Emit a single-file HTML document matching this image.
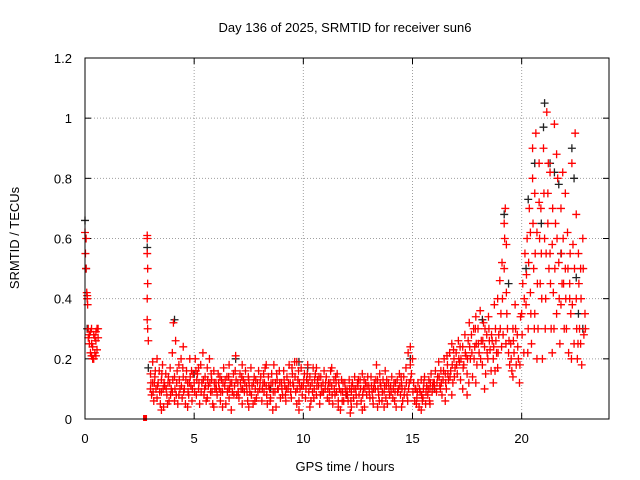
<!DOCTYPE html>
<html><head><meta charset="utf-8"><style>
body{margin:0;background:#fff}
svg{display:block;font-family:"Liberation Sans",sans-serif}
</style></head><body>
<svg id="chart" width="640" height="480">
<text x="345" y="32" font-size="13" text-anchor="middle">Day 136 of 2025, SRMTID for receiver sun6</text>
<text transform="translate(19,238) rotate(-90)" font-size="13" text-anchor="middle">SRMTID / TECUs</text>
<text x="345" y="471" font-size="13" text-anchor="middle">GPS time / hours</text>
<g id="grid"></g>
<g id="ticks"></g>
<g id="marks"></g>
<rect x="85" y="58" width="524" height="361" fill="none" stroke="#000" stroke-width="1"/>
</svg>
<script>
const xTicks=[0,5,10,15,20];
const yTicks=[0,0.2,0.4,0.6,0.8,1,1.2];
const yTickLabels=["0","0.2","0.4","0.6","0.8","1","1.2"];
const redSquare=[[2.75,0]];
const red=[
[0,.62],[0.02,.55],[0.05,.5],[0.08,.42],[0.1,.4],[0.12,.38],[0.15,.3],[0.2,.28],[0.25,.22],[0.3,.25],[0.35,.2],[0.4,.28],[0.45,.22],[0.5,.26],[0.55,.3],[0.6,.27],[0.3,.3],[0.4,.2],[0.5,.21],[0.2,.25],[0.05,.6],[0.1,.41],
[2.85,.61],[2.85,.6],[2.85,.55],[2.87,.5],[2.87,.45],[2.85,.4],[2.85,.33],[2.87,.3],[2.9,.26],
[3.0,.15],[3.0,.1],[3.05,.08],[3.1,.19],[3.1,.12],[3.15,.06],[3.2,.14],[3.25,.1],[3.3,.2],[3.3,.07],[3.35,.12],[3.4,.16],[3.45,.05],[3.5,.13],[3.5,.09],[3.55,.18],[3.6,.04],[3.65,.11],[3.7,.15],[3.75,.08],[3.8,.12],[3.85,.06],[3.9,.17],[3.95,.1],[3.5,.03],
[4.0,.22],[4.0,.09],[4.05,.32],[4.1,.14],[4.1,.06],[4.15,.26],[4.2,.12],[4.25,.05],[4.3,.18],[4.35,.1],[4.4,.2],[4.45,.07],[4.5,.14],[4.5,.24],[4.55,.1],[4.6,.05],[4.65,.16],[4.7,.12],[4.75,.08],[4.8,.2],[4.85,.11],[4.9,.06],[4.95,.15],[4.3,.08],[4.7,.04],
[5.0,.12],[5.05,.2],[5.1,.08],[5.15,.15],[5.2,.1],[5.25,.05],[5.3,.18],[5.35,.12],[5.4,.22],[5.45,.08],[5.5,.14],[5.55,.06],[5.6,.17],[5.65,.11],[5.7,.2],[5.75,.09],[5.8,.13],[5.85,.05],[5.9,.16],[5.95,.1],[5.2,.17],[5.6,.07],[5.9,.04],
[6.0,.12],[6.05,.08],[6.1,.15],[6.15,.1],[6.2,.06],[6.25,.13],[6.3,.09],[6.35,.17],[6.4,.11],[6.45,.05],[6.5,.14],[6.55,.1],[6.6,.07],[6.65,.12],[6.7,.03],[6.75,.09],[6.8,.15],[6.85,.11],[6.9,.21],[6.95,.08],[6.3,.04],[6.6,.18],
[7.0,.12],[7.05,.07],[7.1,.15],[7.15,.1],[7.2,.05],[7.25,.13],[7.3,.09],[7.35,.16],[7.4,.11],[7.45,.06],[7.5,.13],[7.55,.09],[7.6,.17],[7.65,.11],[7.7,.05],[7.75,.14],[7.8,.1],[7.85,.07],[7.9,.12],[7.95,.16],[7.5,.04],[7.2,.18],
[8.0,.1],[8.05,.14],[8.1,.06],[8.15,.12],[8.2,.09],[8.25,.17],[8.3,.11],[8.35,.05],[8.4,.14],[8.45,.1],[8.5,.07],[8.55,.15],[8.6,.12],[8.65,.18],[8.7,.09],[8.75,.04],[8.8,.13],[8.85,.1],[8.9,.16],[8.95,.07],[8.6,.03],[8.3,.18],
[9.0,.12],[9.05,.08],[9.1,.16],[9.15,.11],[9.2,.06],[9.25,.14],[9.3,.1],[9.35,.18],[9.4,.12],[9.45,.07],[9.5,.15],[9.55,.11],[9.6,.19],[9.65,.09],[9.7,.05],[9.75,.13],[9.8,.03],[9.85,.1],[9.9,.17],[9.95,.08],[9.7,.19],[9.8,.06],
[10.0,.11],[10.05,.15],[10.1,.07],[10.15,.13],[10.2,.18],[10.25,.09],[10.3,.14],[10.35,.06],[10.4,.12],[10.45,.17],[10.5,.1],[10.55,.15],[10.6,.08],[10.65,.13],[10.7,.11],[10.75,.05],[10.8,.14],[10.85,.09],[10.9,.12],[10.95,.16],[10.3,.04],[10.6,.17],
[11.0,.1],[11.05,.14],[11.1,.07],[11.15,.12],[11.2,.09],[11.25,.16],[11.3,.11],[11.35,.05],[11.4,.13],[11.45,.08],[11.5,.12],[11.55,.15],[11.6,.06],[11.65,.1],[11.7,.03],[11.75,.13],[11.8,.09],[11.85,.06],[11.9,.12],[11.95,.08],[11.6,.04],[11.3,.17],
[12.0,.1],[12.05,.06],[12.1,.13],[12.15,.02],[12.2,.09],[12.25,.12],[12.3,.07],[12.35,.14],[12.4,.1],[12.45,.05],[12.5,.11],[12.55,.08],[12.6,.13],[12.65,.06],[12.7,.15],[12.75,.1],[12.8,.04],[12.85,.12],[12.9,.08],[12.95,.14],[12.2,.04],[12.7,.03],
[13.0,.11],[13.05,.07],[13.1,.14],[13.15,.09],[13.2,.05],[13.25,.12],[13.3,.1],[13.35,.18],[13.4,.13],[13.45,.08],[13.5,.15],[13.55,.11],[13.6,.06],[13.65,.13],[13.7,.09],[13.75,.16],[13.8,.11],[13.85,.05],[13.9,.12],[13.95,.08],[13.4,.04],[13.7,.04],
[14.0,.11],[14.05,.14],[14.1,.07],[14.15,.12],[14.2,.09],[14.25,.04],[14.3,.13],[14.35,.1],[14.4,.15],[14.45,.08],[14.5,.12],[14.55,.06],[14.6,.14],[14.65,.1],[14.7,.17],[14.75,.08],[14.8,.22],[14.85,.12],[14.9,.24],[14.95,.15],[14.5,.04],[14.9,.18],
[15.0,.2],[15.05,.12],[15.1,.06],[15.15,.1],[15.2,.07],[15.25,.12],[15.3,.04],[15.35,.09],[15.4,.13],[15.45,.06],[15.5,.1],[15.55,.14],[15.6,.05],[15.65,.11],[15.7,.08],[15.75,.13],[15.8,.1],[15.85,.15],[15.9,.09],[15.95,.12],[15.4,.03],[15.8,.05],
[16.0,.12],[16.05,.16],[16.1,.09],[16.15,.14],[16.2,.19],[16.25,.11],[16.3,.16],[16.35,.08],[16.4,.13],[16.45,.2],[16.5,.15],[16.55,.1],[16.6,.18],[16.65,.13],[16.7,.22],[16.75,.16],[16.8,.25],[16.85,.12],[16.9,.2],[16.95,.17],[16.5,.06],[16.8,.08],
[17.0,.22],[17.05,.15],[17.1,.26],[17.15,.19],[17.2,.13],[17.3,.24],[17.35,.18],[17.4,.28],[17.45,.21],[17.5,.15],[17.55,.26],[17.6,.32],[17.65,.2],[17.7,.28],[17.75,.14],[17.8,.3],[17.85,.24],[17.9,.34],[17.95,.18],[17.5,.08],[17.3,.1],[17.9,.12],
[18.0,.3],[18.05,.22],[18.1,.36],[18.15,.26],[18.2,.18],[18.25,.32],[18.3,.24],[18.35,.15],[18.4,.28],[18.45,.2],[18.5,.3],[18.55,.23],[18.6,.16],[18.65,.26],[18.7,.2],[18.75,.38],[18.8,.3],[18.85,.22],[18.9,.4],[18.95,.28],[18.3,.1],[18.7,.12],[18.9,.17],
[19.0,.46],[19.05,.35],[19.1,.52],[19.15,.28],[19.2,.65],[19.25,.7],[19.3,.42],[19.35,.3],[19.4,.22],[19.45,.18],[19.5,.25],[19.55,.16],[19.6,.3],[19.65,.22],[19.7,.38],[19.75,.18],[19.8,.28],[19.85,.2],[19.9,.12],[19.95,.34],[19.2,.5],[19.3,.58],[19.6,.14],
[20.0,.35],[20.05,.45],[20.1,.22],[20.15,.55],[20.2,.38],[20.25,.6],[20.3,.3],[20.35,.7],[20.4,.42],[20.45,.25],[20.5,.8],[20.55,.5],[20.6,.35],[20.65,.95],[20.7,.62],[20.75,.3],[20.8,.72],[20.85,.45],[20.9,.55],[20.95,.2],[20.6,.75],[20.4,.62],[20.7,.2],[20.5,.9],[20.8,.85],
[21.0,.9],[21.05,.6],[21.1,.4],[21.15,1.02],[21.2,.75],[21.25,.5],[21.3,.82],[21.35,.3],[21.4,.58],[21.45,.42],[21.5,.98],[21.55,.65],[21.6,.35],[21.65,.8],[21.7,.52],[21.75,.25],[21.8,.7],[21.85,.45],[21.9,.6],[21.95,.3],[21.2,.65],[21.4,.22],[21.6,.88],[21.8,.38],[21.3,.55],
[22.0,.5],[22.05,.3],[22.1,.62],[22.15,.22],[22.2,.45],[22.25,.35],[22.3,.85],[22.35,.58],[22.4,.25],[22.45,.95],[22.5,.4],[22.55,.2],[22.6,.55],[22.65,.3],[22.7,.5],[22.75,.18],[22.8,.6],[22.85,.28],[22.9,.35],[22.0,.75],[22.2,.4],[22.5,.68],[22.7,.25]
];
const red2=[
[0.15,.27],[0.25,.29],[0.35,.24],[0.45,.27],[0.55,.23],[0.6,.3],[0.3,.21],[0.5,.29],
[3.02,.12],[3.12,.09],[3.22,.16],[3.32,.11],[3.42,.09],[3.52,.15],[3.62,.12],[3.72,.1],[3.82,.14],[3.92,.08],[3.18,.12],[3.58,.1],[3.78,.05],[3.88,.12],
[4.02,.13],[4.12,.1],[4.22,.16],[4.32,.13],[4.42,.11],[4.52,.09],[4.62,.13],[4.72,.09],[4.82,.14],[4.92,.1],[4.18,.08],[4.48,.17],[4.78,.12],[4.88,.16],
[5.02,.09],[5.12,.13],[5.22,.12],[5.32,.09],[5.42,.13],[5.52,.11],[5.62,.13],[5.72,.12],[5.82,.09],[5.92,.12],[5.08,.16],[5.48,.1],[5.78,.15],
[6.02,.1],[6.12,.12],[6.22,.09],[6.32,.12],[6.42,.13],[6.52,.09],[6.62,.1],[6.72,.12],[6.82,.08],[6.92,.13],[6.18,.14],[6.58,.14],[6.88,.16],
[7.02,.09],[7.12,.12],[7.22,.1],[7.32,.12],[7.42,.09],[7.52,.11],[7.62,.08],[7.72,.12],[7.82,.13],[7.92,.09],[7.18,.14],[7.48,.14],[7.78,.06],
[8.02,.12],[8.12,.1],[8.22,.12],[8.32,.08],[8.42,.11],[8.52,.12],[8.62,.09],[8.72,.12],[8.82,.1],[8.92,.12],[8.18,.15],[8.48,.06],[8.78,.15],
[9.02,.1],[9.12,.13],[9.22,.1],[9.32,.12],[9.42,.09],[9.52,.12],[9.62,.14],[9.72,.1],[9.82,.12],[9.92,.11],[9.18,.08],[9.48,.17],[9.78,.16],
[10.02,.13],[10.12,.1],[10.22,.12],[10.32,.11],[10.42,.09],[10.52,.13],[10.62,.11],[10.72,.14],[10.82,.11],[10.92,.09],[10.18,.15],[10.48,.07],[10.78,.08],
[11.02,.12],[11.12,.1],[11.22,.12],[11.32,.08],[11.42,.1],[11.52,.09],[11.62,.12],[11.72,.09],[11.82,.12],[11.92,.1],[11.18,.06],[11.48,.14],[11.78,.06],
[12.02,.08],[12.12,.1],[12.22,.11],[12.32,.1],[12.42,.08],[12.52,.13],[12.62,.1],[12.72,.08],[12.82,.1],[12.92,.11],[12.18,.06],[12.48,.12],[12.78,.13],
[13.02,.09],[13.12,.11],[13.22,.1],[13.32,.13],[13.42,.1],[13.52,.12],[13.62,.09],[13.72,.11],[13.82,.13],[13.92,.1],[13.18,.07],[13.48,.06],[13.78,.07],
[14.02,.09],[14.12,.1],[14.22,.12],[14.32,.09],[14.42,.11],[14.52,.1],[14.62,.08],[14.72,.12],[14.82,.1],[14.92,.13],[14.18,.06],[14.48,.14],[14.78,.06],
[15.02,.09],[15.12,.1],[15.22,.09],[15.32,.1],[15.42,.08],[15.52,.12],[15.62,.09],[15.72,.1],[15.82,.12],[15.92,.11],[15.18,.05],[15.48,.07],[15.78,.06],
[16.02,.1],[16.12,.12],[16.22,.14],[16.32,.12],[16.42,.16],[16.52,.12],[16.62,.15],[16.72,.14],[16.82,.18],[16.92,.14],[16.28,.1],[16.58,.21],[16.88,.23],
[17.02,.18],[17.12,.2],[17.22,.2],[17.32,.17],[17.42,.22],[17.52,.2],[17.62,.24],[17.72,.22],[17.82,.2],[17.92,.25],[17.18,.24],[17.58,.12],[17.88,.3],
[18.02,.25],[18.12,.2],[18.22,.26],[18.32,.3],[18.42,.22],[18.52,.26],[18.62,.28],[18.72,.24],[18.82,.26],[18.92,.22],[18.48,.34],[18.78,.16],
[19.02,.3],[19.12,.4],[19.22,.6],[19.32,.35],[19.42,.26],[19.52,.2],[19.62,.26],[19.72,.3],[19.82,.24],[19.92,.18],[19.08,.24],[19.28,.25],
[20.02,.28],[20.12,.4],[20.22,.48],[20.32,.52],[20.42,.35],[20.52,.65],[20.62,.55],[20.72,.45],[20.82,.6],[20.92,.4],[20.28,.22],[20.58,.3],[20.88,.7],
[21.02,.75],[21.12,.55],[21.22,.85],[21.32,.45],[21.42,.7],[21.52,.5],[21.62,.6],[21.72,.4],[21.82,.55],[21.92,.45],[21.08,.3],[21.48,.3],[21.88,.82],
[22.02,.4],[22.12,.5],[22.22,.55],[22.32,.38],[22.42,.5],[22.52,.3],[22.62,.45],[22.72,.4],[22.82,.5],[22.92,.3],[22.28,.2],[22.58,.25]
];
const black=[[0,.66],[0.05,.5],[0.1,.3],[2.85,.57],[2.9,.17],[4.1,.33],[6.9,.2],[9.8,.19],[10.2,.17],[14.9,.2],[18.2,.33],[19.2,.68],[19.4,.45],[20.3,.73],[20.6,.85],[20.9,.65],[21.0,.97],[21.05,1.05],[21.3,.85],[21.5,.82],[21.8,.55],[22.3,.9],[22.4,.8],[22.5,.47],[22.6,.35],[22.8,.3],[20.2,.5],[21.7,.78],[8.5,.1],[12,.08],[5,.15],[16,.1]];

const X0=85,X1=609,Y0=419,Y1=58,XMAX=24,YMAX=1.2;
const sx=t=>X0+t*(X1-X0)/XMAX;
const sy=v=>Y0-v*(Y0-Y1)/YMAX;
const NS="http://www.w3.org/2000/svg";
function mk(tag,attrs,parent){const e=document.createElementNS(NS,tag);for(const k in attrs)e.setAttribute(k,attrs[k]);parent.appendChild(e);return e;}
const grid=document.getElementById('grid'),ticks=document.getElementById('ticks'),marks=document.getElementById('marks');
xTicks.forEach(t=>{
  const x=sx(t);
  if(t>0){const g=mk('line',{x1:x,x2:x,y1:Y0,y2:Y1,stroke:'#a0a0a0','stroke-dasharray':'1,2'},grid);
  
  }
  mk('line',{x1:x,x2:x,y1:Y0,y2:Y0-6,stroke:'#000'},ticks);
  mk('line',{x1:x,x2:x,y1:Y1,y2:Y1+6,stroke:'#000'},ticks);
  const l=mk('text',{x:x,y:443,'font-size':13,'text-anchor':'middle'},ticks);
  l.textContent=String(t);
  
  
});
yTicks.forEach((v,i)=>{
  const y=sy(v);
  if(v>0&&v<YMAX){const g=mk('line',{x1:X0,x2:X1,y1:y,y2:y,stroke:'#a0a0a0','stroke-dasharray':'1,2'},grid);
  
  }
  mk('line',{x1:X0,x2:X0+6,y1:y,y2:y,stroke:'#000'},ticks);
  mk('line',{x1:X1,x2:X1-6,y1:y,y2:y,stroke:'#000'},ticks);
  const l=mk('text',{x:72,y:y+5,'font-size':13,'text-anchor':'end'},ticks);
  l.textContent=yTickLabels[i];
  
  
});
function plus(d,color,name){
  const x=sx(d[0]),y=sy(d[1]);
  const p=mk('path',{d:`M${x-4},${y}h8M${x},${y-4}v8`,stroke:color,'stroke-width':1.3,fill:'none'},marks);
  
  
}
black.forEach(d=>plus(d,'#222','black-point'));
red.forEach(d=>plus(d,'#ff0000','red-point'));
red2.forEach(d=>plus(d,'#ff0000','red-point'));
redSquare.forEach(d=>{
  const r=mk('rect',{x:sx(d[0])-2,y:sy(d[1])-4,width:4,height:6,fill:'#ff0000'},marks);
  
  
});
</script>
</body></html>
